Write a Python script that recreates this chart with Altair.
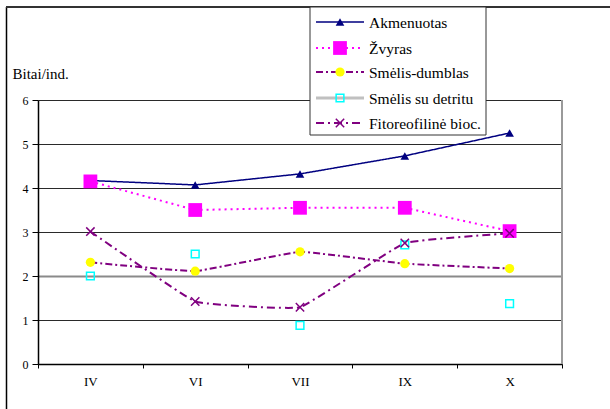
import altair as alt
import pandas as pd

# Months (Roman numerals) and Shannon diversity per biotope, bits per individual
months = ["IV", "VI", "VII", "IX", "X"]
akmenuotas = [4.17, 4.07, 4.32, 4.73, 5.25]
zvyras = [4.15, 3.50, 3.55, 3.55, 3.02]
smelis_dumblas = [2.31, 2.11, 2.55, 2.28, 2.17]
smelis_detritas = [2.00, 2.50, 0.88, 2.71, 1.37]
fitoreofiline = [3.01, 1.42, 1.29, 2.75, 2.97]

series_names = ["Akmenuotas", "Žvyras", "Smėlis-dumblas", "Smėlis su detritu", "Fitoreofilinė bioc."]
series_values = [akmenuotas, zvyras, smelis_dumblas, smelis_detritas, fitoreofiline]

FONT = "Times New Roman, Liberation Serif, serif"
W, H = 524, 264
CROSS = "M-1,-1L1,1M-1,1L1,-1"

# style per series: line colour, dash, line width, interpolation, marker spec, draw line in plot
styles = {
    "Akmenuotas": dict(color="#000080", dash=[1, 0], width=1.5, interp="linear",
                       marker=dict(shape="triangle-up", size=75, filled=True, color="#000080"), line=True),
    "Žvyras": dict(color="#FF00FF", dash=[2, 4], width=2, interp="linear",
                   marker=dict(shape="square", size=190, filled=True, color="#FF00FF"), line=True),
    "Smėlis-dumblas": dict(color="#800080", dash=[7, 3, 2, 3], width=2, interp="cardinal",
                           marker=dict(shape="circle", size=85, filled=True, color="#FFFF00"), line=True),
    "Smėlis su detritu": dict(color="#C0C0C0", dash=[1, 0], width=3, interp="linear",
                              marker=dict(shape="square", size=60, filled=False, color="#00FFFF", strokeWidth=1.5),
                              line=False),
    "Fitoreofilinė bioc.": dict(color="#800080", dash=[8, 4, 2, 4], width=2, interp="cardinal",
                                marker=dict(shape=CROSS, size=70, filled=False, color="#800080", strokeWidth=1.5),
                                line=True),
}

rows = []
for name, vals in zip(series_names, series_values):
    for m, v in zip(months, vals):
        rows.append({"month": m, "series": name, "value": v})
df = pd.DataFrame(rows)

x_enc = alt.X(
    "month:N", sort=months, bandPosition=0.5,
    scale=alt.Scale(type="band", paddingInner=0, paddingOuter=0),
    axis=alt.Axis(title=None, tickBand="extent", labelAngle=0, labelFont=FONT, labelFontSize=13,
                  labelColor="black", domainColor="black", domainWidth=1.5, tickColor="black",
                  tickSize=4, labelPadding=7, grid=False),
)
y_enc = alt.Y(
    "value:Q", scale=alt.Scale(domain=[0, 6], nice=False),
    axis=alt.Axis(values=[0, 1, 2, 3, 4, 5, 6], title="Bitai/ind.", titleAngle=0, titleAlign="left",
                  titleBaseline="alphabetic", titleX=-26, titleY=-22, titleFont=FONT, titleFontSize=15,
                  titleFontWeight="normal", titleColor="black", labelFont=FONT, labelFontSize=12,
                  labelColor="black", labelPadding=4, tickSize=6, tickColor="black",
                  domainColor="black", domainWidth=1.5,
                  gridColor={"condition": {"test": "datum.value === 2", "value": "#8a8a8a"}, "value": "#2a2a2a"},
                  gridWidth={"condition": {"test": "datum.value === 2", "value": 2}, "value": 1}),
)

base = alt.Chart(df)
one = pd.DataFrame({"k": [0]})

layers = []
# right edge of the plot area
layers.append(alt.Chart(one).mark_rule(color="#9a9a9a", strokeWidth=2).encode(
    x=alt.value(W), y=alt.value(0), y2=alt.value(H)))

for name in series_names:
    st = styles[name]
    sub = base.transform_filter(alt.datum.series == name)
    if st["line"]:
        layers.append(sub.mark_line(color=st["color"], strokeDash=st["dash"], strokeWidth=st["width"],
                                    interpolate=st["interp"], tension=0.75).encode(x=x_enc, y=y_enc))
for name in series_names:
    st = styles[name]
    mk = st["marker"]
    sub = base.transform_filter(alt.datum.series == name)
    kw = dict(shape=mk["shape"], size=mk["size"], filled=mk["filled"], opacity=1)
    if mk["filled"]:
        kw.update(fill=mk["color"], color=mk["color"], strokeWidth=0)
    else:
        kw.update(color=mk["color"], strokeWidth=mk["strokeWidth"])
    layers.append(sub.mark_point(**kw).encode(x=x_enc, y=y_enc))

# outer chart frame (left and top edges)
layers.append(alt.Chart(one).mark_rule(color="black", strokeWidth=1.5).encode(
    x=alt.value(-31.5), y=alt.value(-93), y2=alt.value(320)))
layers.append(alt.Chart(one).mark_rule(color="#333333", strokeWidth=2).encode(
    x=alt.value(-32), x2=alt.value(600), y=alt.value(-93)))

# legend box
layers.append(alt.Chart(one).mark_rect(fill="white", stroke="#333333", strokeWidth=1).encode(
    x=alt.value(272), x2=alt.value(448), y=alt.value(-93), y2=alt.value(35)))

legend_y = [-78, -52, -28, -2, 23]
for name, ly in zip(series_names, legend_y):
    st = styles[name]
    mk = st["marker"]
    layers.append(alt.Chart(one).mark_rule(color=st["color"], strokeDash=st["dash"],
                                           strokeWidth=st["width"]).encode(
        x=alt.value(278), x2=alt.value(326), y=alt.value(ly)))
    kw = dict(shape=mk["shape"], size=mk["size"], filled=mk["filled"], opacity=1)
    if mk["filled"]:
        kw.update(fill=mk["color"], color=mk["color"], strokeWidth=0)
    else:
        kw.update(color=mk["color"], strokeWidth=mk["strokeWidth"])
    layers.append(alt.Chart(one).mark_point(**kw).encode(x=alt.value(302), y=alt.value(ly)))
    layers.append(alt.Chart(one).mark_text(text=name, font=FONT, fontSize=15.5, align="left",
                                           baseline="middle", color="black").encode(
        x=alt.value(331), y=alt.value(ly + 1)))

chart = alt.layer(*layers).properties(
    width=W, height=H,
    autosize=alt.AutoSizeParams(type="none"),
    padding={"left": 38, "top": 100, "right": 48, "bottom": 45},
    background="white",
).configure_view(stroke=None)

chart.save("out.html", embed_options={"renderer": "svg", "actions": False})
